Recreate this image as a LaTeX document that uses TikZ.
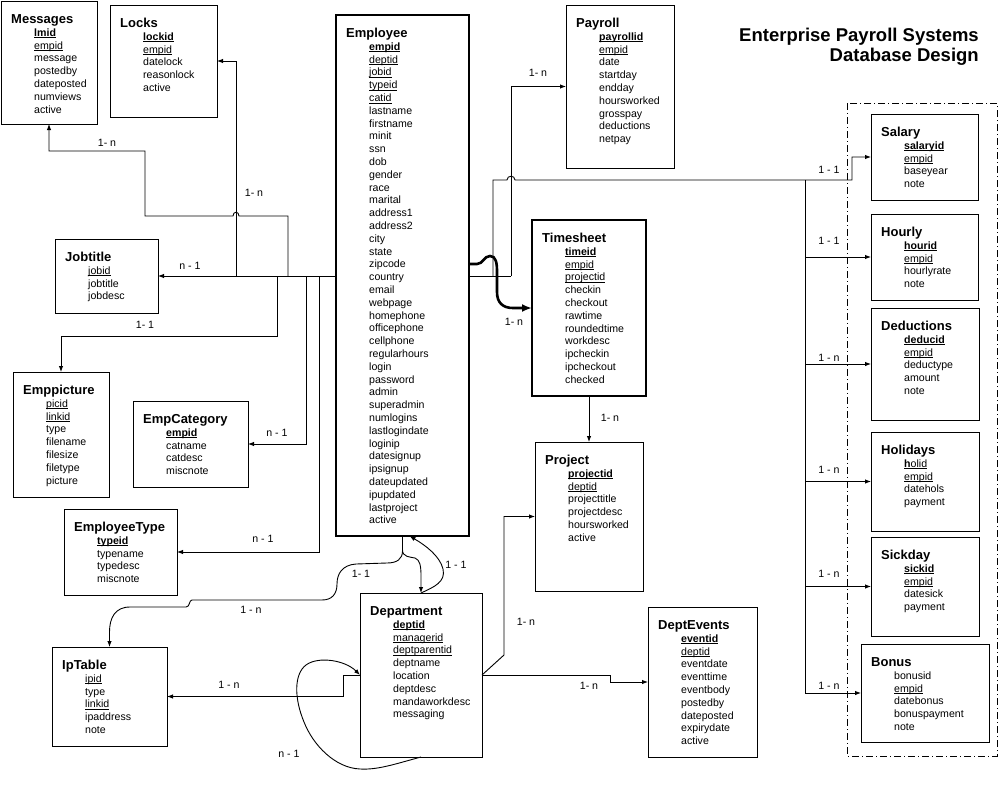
\documentclass[tikz,border=0pt]{standalone}
\usepackage{fontspec}
\setmainfont{Liberation Sans}
\usetikzlibrary{arrows.meta,positioning,calc}
\tikzstyle{tbl}=[draw,rectangle,anchor=north west,inner sep=0pt,outer sep=0pt,line width=0.9pt]
\tikzstyle{ttl}=[anchor=base west,inner sep=0pt,font=\fontsize{13}{15}\selectfont\bfseries]
\tikzstyle{flds}=[anchor=north west,inner sep=0pt,align=left,font=\fontsize{10.6}{12.8}\selectfont]
\tikzstyle{card}=[inner sep=0pt,font=\fontsize{10.6}{12}\selectfont]
\tikzstyle{rel}=[-{Latex[length=6pt,width=4.5pt]},line width=0.9pt]
\tikzstyle{relbold}=[-{Latex[length=10pt,width=8pt]},line width=2.6pt]
\tikzstyle{group}=[line width=0.9pt,dash pattern=on 7pt off 3pt on 1pt off 3pt]
\newsavebox\ulbox
\newcommand{\fk}[1]{\sbox\ulbox{#1}\rlap{\rule[-1.8pt]{\wd\ulbox}{0.7pt}}\usebox\ulbox}
\newcommand{\pk}[1]{\fk{\textbf{#1}}}
% [style]{name}{nw corner}{width}{height}{title}{fields}
\newcommand{\dbtable}[7][]{%
  \node[tbl,#1,minimum width=#4,minimum height=#5] (#2) at #3 {};
  \node[ttl] (#2-t) at ($(#2.north west)+(10,22)$) {#6};
  \node[flds] (#2-f) at ($(#2.north west)+(33,27.5)$) {#7};}

\begin{document}
\begin{tikzpicture}[x=1pt,y=-1pt]
\useasboundingbox (0,0) rectangle (999,798);

\node[anchor=north east,align=right,inner sep=0pt,font=\fontsize{18.5}{20.5}\selectfont\bfseries] (heading) at (979,27.5) {Enterprise Payroll Systems\\Database Design};

% tables
\dbtable{messages}{(1,1)}{96}{123}{Messages}{\pk{lmid}\\ \fk{empid}\\ message\\ postedby\\ dateposted\\ numviews\\ active}
\dbtable{locks}{(110,5)}{107}{112}{Locks}{\pk{lockid}\\ \fk{empid}\\ datelock\\ reasonlock\\ active}
\dbtable[line width=2pt]{employee}{(336,15)}{133}{521}{Employee}{\pk{empid}\\ \fk{deptid}\\ \fk{jobid}\\ \fk{typeid}\\ \fk{catid}\\ lastname\\ firstname\\ minit\\ ssn\\ dob\\ gender\\ race\\ marital\\ address1\\ address2\\ city\\ state\\ zipcode\\ country\\ email\\ webpage\\ homephone\\ officephone\\ cellphone\\ regularhours\\ login\\ password\\ admin\\ superadmin\\ numlogins\\ lastlogindate\\ loginip\\ datesignup\\ ipsignup\\ dateupdated\\ ipupdated\\ lastproject\\ active}
\dbtable{payroll}{(566,5)}{108}{163}{Payroll}{\pk{payrollid}\\ \fk{empid}\\ date\\ startday\\ endday\\ hoursworked\\ grosspay\\ deductions\\ netpay}
\dbtable[line width=2pt]{timesheet}{(532,220)}{114}{176}{Timesheet}{\pk{timeid}\\ \fk{empid}\\ \fk{projectid}\\ checkin\\ checkout\\ rawtime\\ roundedtime\\ workdesc\\ ipcheckin\\ ipcheckout\\ checked}
\dbtable{project}{(535,442)}{108}{149}{Project}{\pk{projectid}\\ \fk{deptid}\\ projecttitle\\ projectdesc\\ hoursworked\\ active}
\dbtable{deptevents}{(648,607)}{109}{150}{DeptEvents}{\pk{eventid}\\ \fk{deptid}\\ eventdate\\ eventtime\\ eventbody\\ postedby\\ dateposted\\ expirydate\\ active}
\dbtable{department}{(360,593)}{122}{164}{Department}{\pk{deptid}\\ \fk{managerid}\\ \fk{deptparentid}\\ deptname\\ location\\ deptdesc\\ mandaworkdesc\\ messaging}
\dbtable{iptable}{(52,647)}{115}{99}{IpTable}{\fk{ipid}\\ type\\ \fk{linkid}\\ ipaddress\\ note}
\dbtable{employeetype}{(64,509)}{113}{86}{EmployeeType}{\pk{typeid}\\ typename\\ typedesc\\ miscnote}
\dbtable{jobtitle}{(55,239)}{103}{74}{Jobtitle}{\fk{jobid}\\ jobtitle\\ jobdesc}
\dbtable{emppicture}{(13,372)}{96}{125}{Emppicture}{\fk{picid}\\ \fk{linkid}\\ type\\ filename\\ filesize\\ filetype\\ picture}
\dbtable{empcategory}{(133,401)}{115}{86}{EmpCategory}{\pk{empid}\\ catname\\ catdesc\\ miscnote}
\dbtable{salary}{(871,114)}{107}{86}{Salary}{\pk{salaryid}\\ \fk{empid}\\ baseyear\\ note}
\dbtable{hourly}{(871,214)}{107}{86}{Hourly}{\pk{hourid}\\ \fk{empid}\\ hourlyrate\\ note}
\dbtable{deductions}{(871,308)}{108}{112}{Deductions}{\pk{deducid}\\ \fk{empid}\\ deductype\\ amount\\ note}
\dbtable{holidays}{(871,432)}{108}{99}{Holidays}{\fk{\textbf{h}olid}\\ \fk{empid}\\ datehols\\ payment}
\dbtable{sickday}{(871,537)}{108}{99}{Sickday}{\pk{sickid}\\ \fk{empid}\\ datesick\\ payment}
\dbtable{bonus}{(861,644)}{128}{98}{Bonus}{bonusid\\ \fk{empid}\\ datebonus\\ bonuspayment\\ note}

\draw[group] (847,103) rectangle (997,756);

% left side of Employee
\coordinate (tlocks) at (236,276);
\coordinate (tpic) at (277,276);
\coordinate (tmsg) at (288,276);
\coordinate (tcat) at (306,276);
\coordinate (ttype) at (319,276);
\draw[rel] (employee.west |- jobtitle.east) -- (jobtitle.east);
\draw[rel] (tlocks) |- (locks.east);
\draw[rel] (tmsg) -- (288,216) -- (239,216) .. controls (239,211) and (233,211) .. (233,216) -- (145,216) -- (145,151) -| (messages.south);
\draw[rel] (tpic) -- (277,336) -| (emppicture.north);
\draw[rel] (tcat) |- (empcategory.east);
\draw[rel] (ttype) |- (employeetype.east);

% right side of Employee
\coordinate (tsal) at (493,276);
\coordinate (tpay) at (511,276);
\coordinate (tpart) at (805,180);
\draw[line width=0.9pt] (employee.east |- tpay) -- (tpay);
\draw[rel] (tpay) |- (payroll.west);
\draw[rel] (tsal) -- (493,180) -- (507,180) .. controls (507,175) and (515,175) .. (515,180) -- (852,180) |- (salary.west);
\foreach \t in {hourly,deductions,holidays,sickday,bonus}
  \draw[rel] (tpart) |- (\t.west);
\draw[relbold] (employee.east |- 0,264) -- (477,264) .. controls (483,264) and (484,256) .. (490,256) .. controls (496,256) and (497,263) .. (497,272) -- (497,292) .. controls (497,303) and (503,308) .. (513,308) -- (timesheet.west);
\draw[rel] (timesheet.south) -- (project.north);

% below Employee
\draw[rel] (employee.south) -- (402.5,550) .. controls (402.5,557) and (410,557) .. (415,558) .. controls (420,560) and (421,566) .. (421,576) -- (department.north);
\draw[rel] (department.north) .. controls (434,587) and (446,582) .. (443,569) .. controls (440,556) and (425,545) .. ([xshift=7pt]employee.south);
\draw[rel] (employee.south) -- (402.5,551) .. controls (402.5,559) and (397,563) .. (387,563) -- (356,564) .. controls (342,565) and (337,574) .. (337,584) .. controls (337,594) and (332,600) .. (322,600) -- (192,600) .. controls (189,600) and (190,607) .. (186,607) -- (130,607) .. controls (115,607) and (109.5,618) .. (109.5,632) -- (iptable.north);

% Department
\draw[rel] (department.east) -- (504,655) |- (project.west);
\draw[rel] (department.east) -- (610,675) |- (deptevents.west);
\draw[rel] (department.west) -- (343,675) |- (iptable.east);
\draw[rel] (department.south) .. controls (395,764) and (378,770) .. (360,769) .. controls (335,768) and (313,745) .. (304,722) .. controls (294,698) and (294,674) .. (306,665) .. controls (318,656) and (345,660) .. (department.west);

% cardinalities
\node[card] (c-msg) at (107,143) {1- n};
\node[card] (c-locks) at (254,193) {1- n};
\node[card] (c-job) at (190,266) {n - 1};
\node[card] (c-pic) at (145,325) {1- 1};
\node[card] (c-cat) at (277,433) {n - 1};
\node[card] (c-type) at (263,539) {n - 1};
\node[card] (c-ip1) at (361,574) {1- 1};
\node[card] (c-ip2) at (251,610) {1 - n};
\node[card] (c-dept) at (456,565) {1 - 1};
\node[card] (c-ip3) at (229,685) {1 - n};
\node[card] (c-self) at (289,754) {n - 1};
\node[card] (c-proj) at (526,622) {1- n};
\node[card] (c-ev) at (589,686) {1- n};
\node[card] (c-tp) at (610,418) {1- n};
\node[card] (c-ts) at (514,322) {1- n};
\node[card] (c-pay) at (538,73) {1- n};
\foreach \y/\c [count=\i] in {170/1 - 1,241/1 - 1,358/1 - n,470/1 - n,574/1 - n,686/1 - n}
  \node[card] (c-part\i) at (829,\y) {\c};
\end{tikzpicture}
\end{document}
